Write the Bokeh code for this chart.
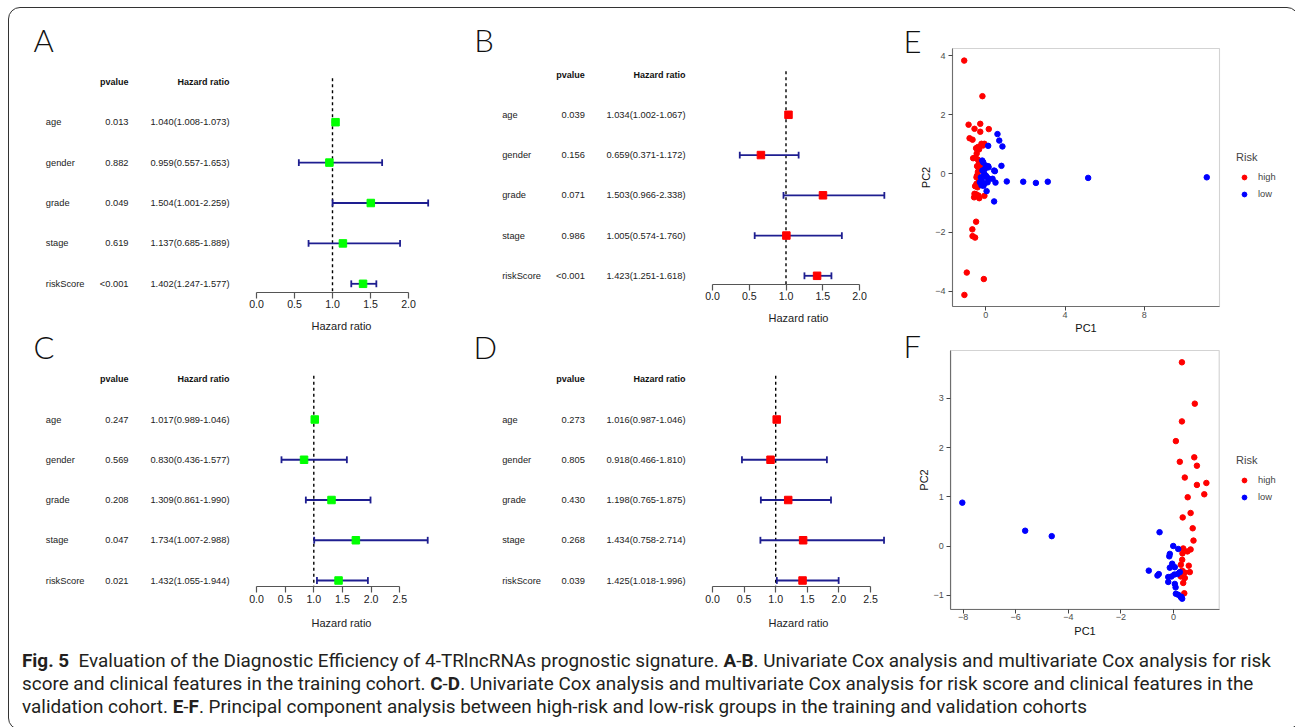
from bokeh.plotting import figure
from bokeh.models import (Range1d, LinearAxis, FixedTicker, Legend, LegendItem,
                          BoxAnnotation, Div, ColumnDataSource, NumeralTickFormatter)
from bokeh.layouts import row, column
from bokeh.core.properties import value
from bokeh.embed import file_html
from bokeh.resources import INLINE

# ---------------- data ----------------
variables = ["age", "gender", "grade", "stage", "riskScore"]

A_pvalue = ["0.013", "0.882", "0.049", "0.619", "<0.001"]
A_hr = [1.040, 0.959, 1.504, 1.137, 1.402]
A_low = [1.008, 0.557, 1.001, 0.685, 1.247]
A_high = [1.073, 1.653, 2.259, 1.889, 1.577]

B_pvalue = ["0.039", "0.156", "0.071", "0.986", "<0.001"]
B_hr = [1.034, 0.659, 1.503, 1.005, 1.423]
B_low = [1.002, 0.371, 0.966, 0.574, 1.251]
B_high = [1.067, 1.172, 2.338, 1.760, 1.618]

C_pvalue = ["0.247", "0.569", "0.208", "0.047", "0.021"]
C_hr = [1.017, 0.830, 1.309, 1.734, 1.432]
C_low = [0.989, 0.436, 0.861, 1.007, 1.055]
C_high = [1.046, 1.577, 1.990, 2.988, 1.944]

D_pvalue = ["0.273", "0.805", "0.430", "0.268", "0.039"]
D_hr = [1.016, 0.918, 1.198, 1.434, 1.425]
D_low = [0.987, 0.466, 0.765, 0.758, 1.018]
D_high = [1.046, 1.810, 1.875, 2.714, 1.996]

ticks_AB = [0.0, 0.5, 1.0, 1.5, 2.0]
ticks_CD = [0.0, 0.5, 1.0, 1.5, 2.0, 2.5]

E_high_pc1 = [-1.09, -0.17, -0.87, -0.28, -0.57, 0.15, -0.28, -0.82, -0.67, -0.22, -0.07, -0.15,
              -0.49, -0.34, -0.40, -0.64, -0.52, -0.40, -0.46, -0.34, -0.44, -0.35, -0.27, -0.40,
              -0.44, -0.47, -0.34, -0.54, -0.47, -0.42, -0.57, -0.49, -0.44, -0.59, -0.33, -0.37,
              -0.07, -0.49, -0.68, -0.67, -0.54, -0.96, -0.10, -1.08]
E_high_pc2 = [3.84, 2.63, 1.66, 1.69, 1.52, 1.51, 1.42, 1.20, 1.15, 1.01, 1.01, 0.95,
              0.86, 0.82, 0.90, 0.52, 0.55, 0.47, 0.68, 0.36, 0.25, 0.15, 0.25, 0.05,
              -0.07, -0.13, -0.22, -0.43, -0.35, -0.47, -0.69, -0.71, -0.77, -0.81, -0.84, -0.75,
              -0.76, -1.64, -1.90, -2.13, -2.18, -3.37, -3.59, -4.13]
E_low_pc1 = [0.59, 0.68, 0.84, 0.12, -0.18, -0.13, 0.79, 0.12, 0.00, 0.14, 0.46, 0.42, -0.17,
             -0.08, -0.25, 0.00, 0.17, -0.20, -0.08, 0.09, 0.34, 0.49, -0.30, -0.22, -0.12,
             0.05, -0.05, 1.06, 1.89, 2.53, 3.13, 5.17, 11.16, 0.04, 0.42]
E_low_pc2 = [1.34, 1.12, 0.92, 0.94, 0.44, 0.38, 0.26, 0.25, 0.27, 0.21, 0.08, 0.10, 0.10,
             -0.01, -0.13, -0.07, -0.18, -0.24, -0.35, -0.30, -0.18, -0.31, -0.30, -0.40, -0.42,
             -0.12, 0.15, -0.27, -0.28, -0.32, -0.28, -0.15, -0.13, -0.60, -0.95]

F_high_pc1 = [0.32, 0.81, 0.32, 0.09, 0.79, 0.24, 0.89, 0.43, 1.25, 0.89, 1.17, 0.54, 0.65, 0.35,
              0.73, 0.76, 0.37, 0.53, 0.65, 0.34, 0.33, 0.28, 0.58, 0.33, 0.62, 0.43, 0.28, 0.43,
              0.37, 0.41]
F_high_pc2 = [3.73, 2.89, 2.53, 2.13, 1.80, 1.71, 1.63, 1.39, 1.28, 1.24, 1.05, 0.99, 0.67, 0.58,
              0.36, 0.11, -0.05, -0.11, -0.07, -0.15, -0.28, -0.38, -0.40, -0.50, -0.53, -0.54,
              -0.62, -0.65, -0.75, -0.96]
F_low_pc1 = [-8.03, -5.64, -4.63, -0.53, -0.94, -0.01, 0.18, -0.14, -0.16, -0.05, -0.14, 0.05,
             -0.56, -0.61, -0.20, -0.08, 0.03, 0.15, 0.24, -0.20, 0.05, 0.08, 0.09, 0.18, 0.30,
             0.33, 0.28]
F_low_pc2 = [0.88, 0.31, 0.20, 0.28, -0.50, 0.00, -0.06, -0.16, -0.21, -0.36, -0.44, -0.43,
             -0.57, -0.60, -0.63, -0.62, -0.58, -0.57, -0.53, -0.73, -0.77, -0.84, -0.97, -0.99,
             -1.03, -1.07, -1.04]

E_xticks = [0, 4, 8]
E_yticks = [-4, -2, 0, 2, 4]
F_xticks = [-8, -6, -4, -2, 0]
F_yticks = [-1, 0, 1, 2, 3]

group_labels = ["high", "low"]
group_colors = ["#FF0000", "#0000FF"]

# ---------------- styling helpers ----------------
FONT_NAME = "Liberation Sans"
FONT = value(FONT_NAME)
LETTER_FONT = value("Lato Light")

TOP, PANEL_H = 8, 632     # page pixels spanned by the panel figures


def col_fig(W):
    return figure(width=W, height=PANEL_H, x_axis_type=None, y_axis_type=None,
                  toolbar_location=None, output_backend="svg", min_border=0,
                  outline_line_color=None, background_fill_color=None, border_fill_color=None)


def set_ranges(p, rn, xr, yr):
    if rn == "default":
        p.x_range = xr
        p.y_range = yr
    else:
        p.extra_x_ranges[rn] = xr
        p.extra_y_ranges[rn] = yr


def forest(p, rn, left, W, letter, pvals, hr, lo, hi, ticks, color,
           x0, sx, y0, sy, axis_row, label_px, p_px, hr_px, title_px, dash_top, letter_px):
    xr = Range1d((left - x0) / sx, (left + W - x0) / sx)
    yr = Range1d(start=(TOP + PANEL_H - y0) / sy, end=(TOP - y0) / sy)
    set_ranges(p, rn, xr, yr)
    rk = dict(x_range_name=rn, y_range_name=rn)
    tx = lambda px: (px - x0) / sx
    ty = lambda py: (py - y0) / sy

    rows = list(range(len(variables)))
    txt = ["%.3f(%.3f-%.3f)" % (a, b, c) for a, b, c in zip(hr, lo, hi)]
    src = ColumnDataSource(dict(y=rows, ylo=[r - 0.085 for r in rows], yhi=[r + 0.085 for r in rows],
                                var=variables, p=pvals, hr=hr, lo=lo, hi=hi, txt=txt))

    # reference line at HR = 1
    p.segment(x0=1, x1=1, y0=dash_top, y1=axis_row, line_dash="3 3", line_color="black",
              line_width=1.4, **rk)
    # CI bars and caps
    bar = dict(source=src, line_color="#1E1E90", line_width=1.8, **rk)
    p.segment(x0="lo", x1="hi", y0="y", y1="y", **bar)
    p.segment(x0="lo", x1="lo", y0="ylo", y1="yhi", **bar)
    p.segment(x0="hi", x1="hi", y0="ylo", y1="yhi", **bar)
    p.scatter(x="hr", y="y", source=src, marker="square", size=7.5, fill_color=color,
              line_color=color, **rk)

    common = dict(source=src, text_font=FONT, text_font_size="9.3px", text_color="#222222",
                  text_baseline="middle", **rk)
    p.text(x=tx(label_px), y="y", text="var", text_align="left", **common)
    p.text(x=tx(p_px), y="y", text="p", text_align="right", **common)
    p.text(x=tx(hr_px), y="y", text="txt", text_align="right", **common)

    hdr = dict(text_font=FONT, text_font_size="9px", text_font_style="bold", text_color="#111111",
               text_baseline="middle", text_align="right", **rk)
    p.text(x=[tx(p_px)], y=[-1.0], text=["pvalue"], **hdr)
    p.text(x=[tx(hr_px)], y=[-1.0], text=["Hazard ratio"], **hdr)

    p.text(x=[tx(letter_px[0])], y=[ty(letter_px[1])], text=[letter], text_font=LETTER_FONT,
           text_font_size="31px", text_color="#111111", text_baseline="middle", text_align="left", **rk)

    ax = LinearAxis(fixed_location=axis_row, bounds=(ticks[0], ticks[-1]),
                    ticker=FixedTicker(ticks=ticks), formatter=NumeralTickFormatter(format="0.0"), **rk)
    ax.axis_line_color = "#555555"
    ax.axis_line_width = 1.2
    ax.major_tick_line_color = "#555555"
    ax.major_tick_line_width = 1.2
    ax.major_tick_out = 6
    ax.major_tick_in = 0
    ax.minor_tick_out = 0
    ax.minor_tick_in = 0
    ax.major_label_standoff = 2
    ax.major_label_text_font = FONT_NAME
    ax.major_label_text_font_size = "10.6px"
    ax.major_label_text_color = "#222222"
    p.add_layout(ax, "below")

    p.text(x=[tx(title_px[0])], y=[ty(title_px[1])], text=["Hazard ratio"], text_font=FONT,
           text_font_size="11px", text_color="#222222", text_baseline="middle", text_align="center", **rk)


def pca(p, rn, left, W, letter, hx, hy, lx, ly, xticks, yticks, x0, sx, y0, sy,
        box, letter_px, legend_loc):
    xr = Range1d((left - x0) / sx, (left + W - x0) / sx)
    yr = Range1d(start=(y0 - (TOP + PANEL_H)) / sy, end=(y0 - TOP) / sy)
    set_ranges(p, rn, xr, yr)
    rk = dict(x_range_name=rn, y_range_name=rn)
    tx = lambda px: (px - x0) / sx
    ty = lambda py: (y0 - py) / sy
    bl, br, bt, bb = tx(box[0]), tx(box[1]), ty(box[2]), ty(box[3])

    p.add_layout(BoxAnnotation(left=bl, right=br, top=bt, bottom=bb, fill_color=None,
                               line_color="#6E6E6E", line_width=1.1, level="underlay", **rk))

    r_high = p.scatter(hx, hy, size=5.5, fill_color=group_colors[0], line_color=group_colors[0], **rk)
    r_low = p.scatter(lx, ly, size=5.5, fill_color=group_colors[1], line_color=group_colors[1], **rk)

    for loc, ticks, side, bounds, lab in ((bb, xticks, "below", (bl, br), "PC1"),
                                         (bl, yticks, "left", (bb, bt), "PC2")):
        ax = LinearAxis(fixed_location=loc, bounds=bounds, ticker=FixedTicker(ticks=ticks),
                        axis_label=lab, **rk)
        ax.axis_line_color = "#6E6E6E"
        ax.axis_line_width = 1.1
        ax.major_tick_line_color = "#444444"
        ax.major_tick_out = 4
        ax.major_tick_in = 0
        ax.minor_tick_out = 0
        ax.minor_tick_in = 0
        ax.major_label_standoff = 1 if side == "below" else 3
        ax.major_label_text_font = FONT_NAME
        ax.major_label_text_font_size = "9px"
        ax.major_label_text_color = "#4D4D4D"
        ax.axis_label_text_font = FONT_NAME
        ax.axis_label_text_font_size = "11px"
        ax.axis_label_text_font_style = "normal"
        ax.axis_label_text_color = "#111111"
        ax.axis_label_standoff = 1 if side == "below" else 0
        p.add_layout(ax, side)

    p.text(x=[tx(letter_px[0])], y=[ty(letter_px[1])], text=[letter], text_font=LETTER_FONT,
           text_font_size="31px", text_color="#111111", text_baseline="middle", text_align="left", **rk)

    legend = Legend(items=[LegendItem(label=group_labels[0], renderers=[r_high]),
                           LegendItem(label=group_labels[1], renderers=[r_low])],
                    title="Risk", location=legend_loc)
    legend.border_line_color = None
    legend.background_fill_alpha = 0
    legend.padding = 0
    legend.margin = 0
    legend.spacing = 5
    legend.glyph_width = 16
    legend.glyph_height = 12
    legend.label_height = 12
    legend.label_standoff = 6
    legend.label_text_font = FONT_NAME
    legend.label_text_font_size = "9.3px"
    legend.title_text_font = FONT_NAME
    legend.title_text_font_size = "11px"
    legend.title_text_font_style = "normal"
    legend.title_standoff = 8
    p.add_layout(legend)


# ---------------- panels (page-pixel layout) ----------------
p1 = col_fig(447)
forest(p1, "default", 8, 447, "A", A_pvalue, A_hr, A_low, A_high, ticks_AB, "#00FF00",
       255, 76, 121.7, 40.4, 4.21, 44.3, 127, 228, (340, 325), -1.09, (32, 39.5))
forest(p1, "lower", 8, 447, "C", C_pvalue, C_hr, C_low, C_high, ticks_CD, "#00FF00",
       255, 57.3, 419, 40.25, 4.16, 44.3, 127, 228, (340, 622), -1.09, (32, 346))

p2 = col_fig(438)
forest(p2, "default", 455, 438, "B", B_pvalue, B_hr, B_low, B_high, ticks_AB, "#FF0000",
       711, 73.5, 114.3, 40.25, 4.21, 500.7, 583.3, 684, (797, 317), -1.08, (472.7, 39.5))
forest(p2, "lower", 455, 438, "D", D_pvalue, D_hr, D_low, D_high, ticks_CD, "#FF0000",
       711, 63.2, 419, 40.25, 4.16, 500.7, 583.3, 684, (797, 622), -1.09, (472, 346))

p3 = col_fig(394)
pca(p3, "default", 893, 394, "E", E_high_pc1, E_high_pc2, E_low_pc1, E_low_pc2, E_xticks, E_yticks,
    984.3, 19.8, 173, 29.4, (951, 1218, 48, 306), (902, 40), (342, 440))
pca(p3, "lower", 893, 394, "F", F_high_pc1, F_high_pc2, F_low_pc1, F_low_pc2, F_xticks, F_yticks,
    1172, 26.3, 545.5, 49.25, (949.3, 1217.7, 350, 608.7), (902, 345), (342, 137))

caption_html = (
    '<div style="font-family: Roboto, sans-serif; '
    'font-size: 18.9px; line-height: 23px; color: #231F20; white-space: nowrap; padding: 4px 0 0 8px;">'
    '<b>Fig. 5</b>&nbsp; Evaluation of the Diagnostic Efficiency of 4-TRlncRNAs prognostic signature. '
    '<b>A</b>-<b>B</b>. Univariate Cox analysis and multivariate Cox analysis for risk<br>'
    'score and clinical features in the training cohort. <b>C</b>-<b>D</b>. Univariate Cox analysis and '
    'multivariate Cox analysis for risk score and clinical features in the<br>'
    'validation cohort. <b>E</b>-<b>F</b>. Principal component analysis between high-risk and low-risk '
    'groups in the training and validation cohorts</div>'
)
caption = Div(text=caption_html, width=1279, height=79)

layout = column(row(p1, p2, p3), caption, margin=(7, 0, 0, 8),
                styles={"border": "1px solid #333333", "border-radius": "12px",
                        "overflow": "hidden", "background-color": "white"})

open("out.html", "w").write(file_html(layout, INLINE))
